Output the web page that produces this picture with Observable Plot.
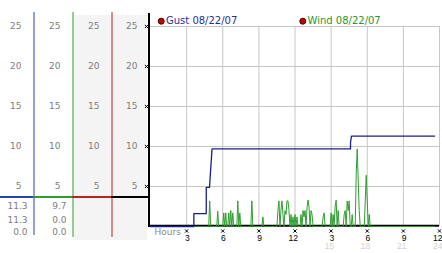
<!DOCTYPE html>
<html>
<head>
<meta charset="utf-8">
<script src="https://cdn.jsdelivr.net/npm/d3@7"></script>
<script src="https://cdn.jsdelivr.net/npm/@observablehq/plot@0.6"></script>
<style>
  html, body { margin: 0; padding: 0; background: #fff; }
  #chart { width: 442px; height: 253px; }
</style>
</head>
<body>
<div id="chart"></div>
<script>
// ---------- DATA ----------
const legendLabels = ["Gust 08/22/07", "Wind 08/22/07"];
const valueTicks = [5, 10, 15, 20, 25];
const hourTicks = [3, 6, 9, 12, 15, 18, 21, 24];
const hourLabels = ["3", "6", "9", "12", "3", "6", "9", "12"];
const pmHours = [15, 18, 21, 24];
const pmLabels = ["15", "18", "21", "24"];

// Gust (step line vertices)
const gustHours  = [0, 3.60, 3.60, 4.63, 4.63, 4.90, 5.11, 16.61, 16.61, 16.69, 23.6];
const gustValues = [0, 0,    1.6,  1.6,  4.9,  4.9,  9.7,  9.7,   10.5,  11.3,  11.3];

// Wind, 5-minute readings starting 03:30
const windStartHour = 3.5;
const windValues = [
  0,0,0,0,0,0,0,0,0,0,0,0,0,0,0,0,0,
  3.2, 0,0,0,0,0,0,0, 1.9, 0,0,0,0,0,
  1.7, 0, 1.7, 0,0, 1.7, 0, 2.0, 0, 1.7, 0,0,0,0, 3.2, 0, 1.7,
  0,0,0,0,0,0,0,0,0,0,0, 3.2, 0,0,0,0,0,0,0,0,0,0, 1.2,
  0,0,0,0,0,0,0,0,0,0,0,0,0,0,
  2.0, 3.2, 0, 2.0, 3.2, 1.5, 0, 2.0, 1.5, 3.2, 3.2, 2.0, 0, 1.5, 0, 1.2, 0, 1.5, 0, 1.2,
  0,0,0, 1.5, 0, 2.0, 1.2, 2.0, 0, 2.4, 3.3, 2.4, 0, 2.0, 1.5,
  0,0,0,0,0,0,0,0,0,0, 1.2, 1.7, 0,0,0,0,0,0,
  1.7, 0, 1.5, 0, 2.5, 3.3, 0, 2.0, 0,0,0,0,0,
  1.5, 2.0, 0, 3.2, 2.0, 3.2, 0, 0, 1.5, 0, 0, 0,
  6.6, 9.7, 5.7, 2.0, 0,0,0,0,0, 3.2, 6.4, 3.2, 0, 1.5, 0,0,0,0
];
const windEndHour = 23.6;

// Summary table below the axis labels
const gustStats = ["11.3", "11.3", "0.0"];
const windStats = ["9.7", "0.0", "0.0"];

// ---------- LAYOUT ----------
const W = 442, H = 253, mL = 150, mR = 3, mT = 26, mB = 27;
const X = px => (px - mL) * 24 / (W - mL - mR);      // layout pixel -> hour units
const Y = py => (H - mB - py) * 25 / (H - mB - mT);  // layout pixel -> value units

const gustData = gustHours.map((h, i) => ({hour: h, value: gustValues[i]}));
const windData = windValues.map((v, i) => ({hour: windStartHour + i / 12, value: v}));
windData.push({hour: windEndHour, value: 0});

const BLUE = "#2443b8", GREEN = "#2f9e2f", RED = "#b82525";
const dividers = [
  {px: 33.5, color: BLUE, bottom: 235},
  {px: 72.5, color: GREEN, bottom: 237},
  {px: 111.5, color: RED, bottom: 237}
];
const sepSegments = [
  {a: 0, b: 33, color: BLUE},
  {a: 33, b: 72, color: GREEN},
  {a: 72, b: 111, color: RED},
  {a: 111, b: 149, color: "#000"}
];
const labelRight = [21, 60, 99, 137];
const tickCells = [];
labelRight.forEach(px => valueTicks.forEach(v => tickCells.push({px, v})));
const statCells = [];
[{px: 27, vals: gustStats}, {px: 66, vals: windStats}].forEach(col =>
  col.vals.forEach((t, r) => statCells.push({px: col.px, row: r, t})));
const statRowY = [205.5, 219.3, 232];

const marks = [
  Plot.rect([0], {x1: () => X(73), x2: () => X(147), y1: () => Y(15), y2: () => Y(240), fill: "#f4f4f4"}),
  // grid
  Plot.ruleX(hourTicks, {y1: () => 0, y2: () => 25, stroke: "#c6c6c6"}),
  Plot.ruleY(valueTicks, {x1: () => 0, x2: () => 24, stroke: "#c6c6c6"}),
  // column dividers
  ...dividers.map(d => Plot.ruleX([d], {x: () => X(d.px), y1: () => Y(12), y2: () => Y(d.bottom), stroke: d.color})),
  ...sepSegments.map(s => Plot.ruleY([s], {y: () => Y(196.5), x1: () => X(s.a), x2: () => X(s.b), stroke: s.color, strokeWidth: 2})),
  // black axis + baseline
  Plot.ruleX([0], {x: () => X(148.5), y1: () => Y(13), y2: () => Y(227), stroke: "#000", strokeWidth: 2}),
  Plot.ruleY([0], {x1: () => 0, x2: () => 24, y: () => Y(225.2), stroke: "#000", strokeWidth: 2}),
  // series
  Plot.line(windData, {x: "hour", y: "value", stroke: GREEN, strokeWidth: 1}),
  Plot.line(gustData, {x: "hour", y: "value", stroke: "#1c1c8e", strokeWidth: 1.3}),
  // value labels in the four left columns
  Plot.text(tickCells, {x: d => X(d.px), y: d => d.v, text: d => String(d.v), textAnchor: "end", fill: "#7d7d7d", fontSize: 9}),
  Plot.dot(valueTicks, {x: () => X(146), y: d => d, symbol: "times", r: 1.6, stroke: "#000", strokeWidth: 1}),
  // summary table
  Plot.text(statCells, {x: d => X(d.px), y: d => Y(statRowY[d.row]), text: "t", textAnchor: "end", fill: "#7d7d7d", fontSize: 9}),
  // hour axis
  Plot.text(["Hours"], {x: () => X(154), y: () => Y(231.5), text: d => d, textAnchor: "start", fill: "#8a8a8a", fontSize: 9}),
  Plot.dot(hourTicks, {x: d => d, y: () => Y(230.5), symbol: "times", r: 1.6, stroke: "#000", strokeWidth: 1}),
  Plot.text(hourTicks, {x: d => d, y: () => Y(237.6), text: (d, i) => hourLabels[i], textAnchor: "end", dx: 3, fill: "#000", fontSize: 8.5, fontFamily: "Liberation Sans"}),
  Plot.text(pmHours, {x: d => d, y: () => Y(246.2), text: (d, i) => pmLabels[i], textAnchor: "end", dx: 3, fill: "#d2d2d2", fontSize: 8.5, fontFamily: "Liberation Sans"}),
  // legend
  Plot.dot([0, 1], {x: i => X([160.7, 302.3][i]), y: () => Y(20.7), r: 3, fill: "#c80000", stroke: "#4a0000", strokeWidth: 1}),
  Plot.text([legendLabels[0]], {x: () => X(165.5), y: () => Y(20.7), text: d => d, textAnchor: "start", fill: "#1f2f96", fontSize: 10}),
  Plot.text([legendLabels[1]], {x: () => X(307), y: () => Y(20.7), text: d => d, textAnchor: "start", fill: "#2a962a", fontSize: 10})
];

const chart = Plot.plot({
  width: W, height: H,
  marginLeft: mL, marginRight: mR, marginTop: mT, marginBottom: mB,
  x: {domain: [0, 24], axis: null},
  y: {domain: [0, 25], axis: null},
  style: {fontFamily: "DejaVu Sans", background: "#fff", overflow: "visible"},
  marks
});
document.getElementById("chart").appendChild(chart);
</script>
</body>
</html>
